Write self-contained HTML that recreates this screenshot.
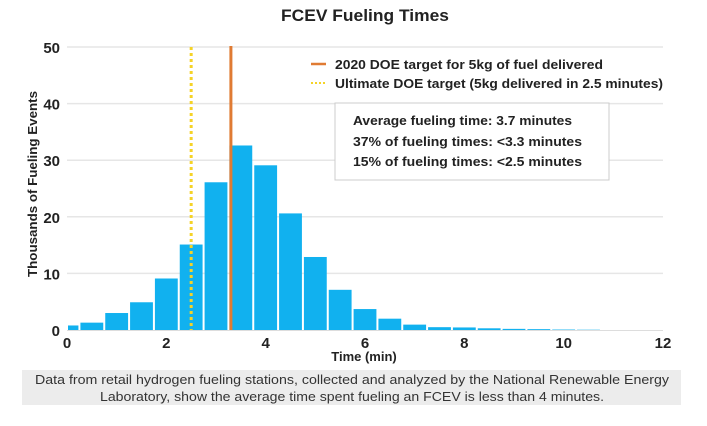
<!DOCTYPE html>
<html><head><meta charset="utf-8"><style>
body{margin:0;background:#fff;width:707px;height:421px;overflow:hidden;font-family:"Liberation Sans",sans-serif}
</style></head><body>
<svg width="707" height="421" xmlns="http://www.w3.org/2000/svg">
<text x="365" y="21" text-anchor="middle" font-size="17" font-weight="bold" fill="#222" textLength="168" lengthAdjust="spacingAndGlyphs">FCEV Fueling Times</text>
<g id="grid"></g>
<g id="bars"></g>
<g id="axes"></g>
<line id="yl" y1="47" y2="330" stroke="#f5d327" stroke-width="3" stroke-dasharray="3,3"/>
<line id="ol" y1="46" y2="330" stroke="#e07b33" stroke-width="3"/>
<g>
<line x1="311" y1="64" x2="326" y2="64" stroke="#e07b33" stroke-width="2.5"/>
<text x="335" y="69" font-size="13" font-weight="bold" fill="#222" textLength="268" lengthAdjust="spacingAndGlyphs">2020 DOE target for 5kg of fuel delivered</text>
<line x1="311" y1="83" x2="326" y2="83" stroke="#f5d327" stroke-width="2" stroke-dasharray="2,2"/>
<text x="335" y="88" font-size="13" font-weight="bold" fill="#222" textLength="328" lengthAdjust="spacingAndGlyphs">Ultimate DOE target (5kg delivered in 2.5 minutes)</text>
</g>
<g>
<rect x="335" y="103" width="274" height="77" fill="#fff" stroke="#ccc"/>
<text x="353" y="125" font-size="13" font-weight="bold" fill="#222" textLength="219" lengthAdjust="spacingAndGlyphs">Average fueling time: 3.7 minutes</text>
<text x="353" y="146" font-size="13" font-weight="bold" fill="#222" textLength="229" lengthAdjust="spacingAndGlyphs">37% of fueling times: &lt;3.3 minutes</text>
<text x="353" y="166" font-size="13" font-weight="bold" fill="#222" textLength="229" lengthAdjust="spacingAndGlyphs">15% of fueling times: &lt;2.5 minutes</text>
</g>
<text transform="translate(37,184) rotate(-90)" text-anchor="middle" font-size="13" font-weight="bold" fill="#222" textLength="186" lengthAdjust="spacingAndGlyphs">Thousands of Fueling Events</text>
<text x="364" y="361" text-anchor="middle" font-size="13" font-weight="bold" fill="#222">Time (min)</text>
<rect x="22" y="370" width="659" height="35" fill="#ececec"/>
<text x="352" y="384" text-anchor="middle" font-size="13" fill="#333" textLength="634" lengthAdjust="spacingAndGlyphs">Data from retail hydrogen fueling stations, collected and analyzed by the National Renewable Energy</text>
<text x="352" y="401" text-anchor="middle" font-size="13" fill="#333" textLength="504" lengthAdjust="spacingAndGlyphs">Laboratory, show the average time spent fueling an FCEV is less than 4 minutes.</text>
</svg>
<script>
const binCenters=[0,0.5,1,1.5,2,2.5,3,3.5,4,4.5,5,5.5,6,6.5,7,7.5,8,8.5,9,9.5,10,10.5];
const counts=[0.8,1.3,3.0,4.9,9.1,15.1,26.1,32.6,29.1,20.6,12.9,7.1,3.7,2.0,0.95,0.5,0.45,0.3,0.2,0.15,0.08,0.05];
const xTicks=[0,2,4,6,8,10,12];
const yTicks=[0,10,20,30,40,50];
const targets=[3.3,2.5];
const NS="http://www.w3.org/2000/svg";
const X=v=>67+v*(596/12);
const Y=v=>330-v*(283/50);
function mk(t,a,p){const e=document.createElementNS(NS,t);for(const k in a)e.setAttribute(k,a[k]);p.appendChild(e);return e;}
const grid=document.getElementById('grid'),bars=document.getElementById('bars'),axes=document.getElementById('axes');
yTicks.forEach(v=>{
  if(v>0){const g=mk('line',{x1:X(0),x2:X(12),y1:Y(v),y2:Y(v),stroke:'#e6e6e6','stroke-width':1.5},grid);
  
  }
  const t=mk('text',{x:60,y:Y(v)+6,'text-anchor':'end','font-size':15,'font-weight':'bold',fill:'#222'},axes);
  t.textContent=v;
  
  
});
binCenters.forEach((c,i)=>{
  const x0=Math.max(0,c-0.25),x1=c+0.25;
  const r=mk('rect',{x:X(x0)+1,y:Y(counts[i]),width:X(x1)-X(x0)-2,height:Y(0)-Y(counts[i]),fill:'#11b1ef'},bars);
  
  
});
const ax=mk('line',{x1:X(0),x2:X(12),y1:Y(0)+0.5,y2:Y(0)+0.5,stroke:'#ddd'},axes);


xTicks.forEach(v=>{
  const t=mk('text',{x:X(v),y:348,'text-anchor':'middle','font-size':15,'font-weight':'bold',fill:'#222'},axes);
  t.textContent=v;
  
  
});
const ol=document.getElementById('ol');ol.setAttribute('x1',X(targets[0]));ol.setAttribute('x2',X(targets[0]));
const yl=document.getElementById('yl');yl.setAttribute('x1',X(targets[1]));yl.setAttribute('x2',X(targets[1]));
</script>
</body></html>
